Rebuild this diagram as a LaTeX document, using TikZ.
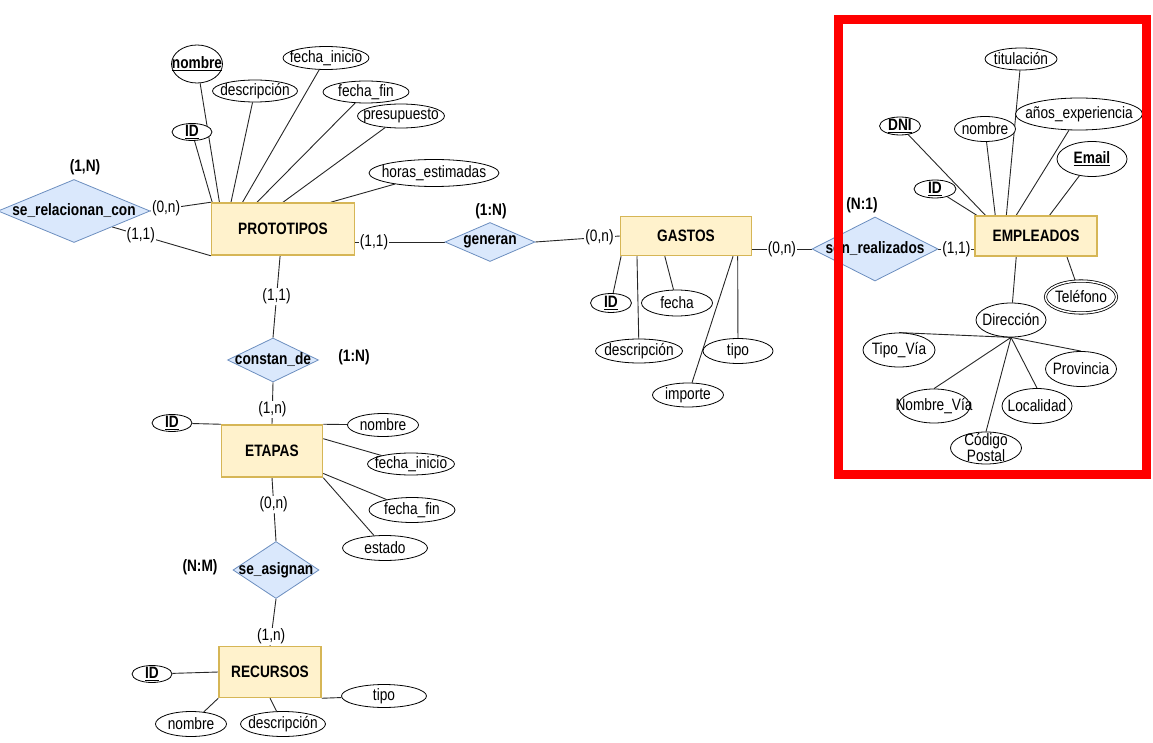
\documentclass[tikz,border=0pt]{standalone}
\usepackage{fontspec}
\setmainfont{Liberation Sans}[FakeStretch=0.83]
\usepackage{xcolor}
\definecolor{entfill}{HTML}{FFF2CC}
\definecolor{entdraw}{HTML}{D6B656}
\definecolor{relfill}{HTML}{DAE8FC}
\definecolor{reldraw}{HTML}{6C8EBF}
\usetikzlibrary{shapes.geometric,calc,backgrounds}
\newcommand{\keyattr}[1]{\textbf{\underline{#1}}}

\begin{document}
\begin{tikzpicture}[
  x=1pt,y=-1pt,
  font=\fontsize{16.5}{17}\selectfont,
  ent/.style={rectangle,draw=entdraw,fill=entfill,line width=1.5pt,font=\fontsize{16.5}{17}\selectfont\bfseries},
  rel/.style 2 args={diamond,draw=reldraw,fill=relfill,line width=0.8pt,inner sep=0pt,minimum width=#1pt,minimum height=#2pt},
  attr/.style 2 args={ellipse,draw,fill=white,line width=0.8pt,inner sep=0pt,minimum width=#1pt,minimum height=#2pt},
  multi/.style={double,double distance=1.5pt},
  lnk/.style={draw=black!85,line width=0.9pt},
  card/.style={fill=white,inner sep=1pt},
  ratio/.style={font=\fontsize{16.5}{17}\selectfont\bfseries}
]
\useasboundingbox (0,0) rectangle (1153,743);

% entidades
\node[ent,minimum width=143pt,minimum height=52pt] (proto) at (283,229) {PROTOTIPOS};
\node[ent,minimum width=131pt,minimum height=39pt] (gastos) at (686,236) {GASTOS};
\node[ent,minimum width=122pt,minimum height=40pt] (emp) at (1036,236) {EMPLEADOS};
\node[ent,minimum width=101pt,minimum height=52pt] (etapas) at (272,451) {ETAPAS};
\node[ent,minimum width=102pt,minimum height=51pt] (recursos) at (270,672) {RECURSOS};

% relaciones
\node[rel={152}{63},label=center:\bfseries se\_relacionan\_con] (serel) at (74,211) {};
\node[rel={90}{39},label=center:\bfseries generan] (generan) at (490,242) {};
\node[rel={126}{64},label=center:\bfseries son\_realizados] (sonreal) at (875,249) {};
\node[rel={91}{44},label=center:\bfseries constan\_de] (constan) at (273,360) {};
\node[rel={86}{57},label=center:\bfseries se\_asignan] (asignan) at (276,570) {};

\node[ratio] (rserel) at (85,167) {(1,N)};
\node[ratio] (rgeneran) at (491,211) {(1:N)};
\node[ratio] (rsonreal) at (862,205) {(N:1)};
\node[ratio] (rconstan) at (354,357) {(1:N)};
\node[ratio] (rasignan) at (200,567) {(N:M)};

% atributos de PROTOTIPOS
\node[attr={51}{38},label=center:\keyattr{nombre}] (pnombre) at (197,64) {};
\node[attr={40}{17},label=center:\keyattr{ID}] (pid) at (192,132) {};
\node[attr={85}{22},label=center:descripción] (pdesc) at (255,91) {};
\node[attr={86}{23},label=center:fecha\_inicio] (pfini) at (326,58) {};
\node[attr={86}{22},label=center:fecha\_fin] (pffin) at (366,92) {};
\node[attr={87}{24},label=center:presupuesto] (ppres) at (401,116) {};
\node[attr={130}{27},label=center:horas\_estimadas] (phoras) at (434,173) {};

% atributos de GASTOS
\node[attr={41}{19},label=center:\keyattr{ID}] (gid) at (611,303) {};
\node[attr={71}{26},label=center:fecha] (gfecha) at (677,303) {};
\node[attr={87}{24},label=center:descripción] (gdesc) at (639,351) {};
\node[attr={70}{25},label=center:tipo] (gtipo) at (738,351) {};
\node[attr={71}{24},label=center:importe] (gimporte) at (688,395) {};

% atributos de EMPLEADOS
\node[attr={72}{22},label=center:titulación] (etit) at (1021,59) {};
\node[attr={127}{32},label=center:años\_experiencia] (eanos) at (1079,114) {};
\node[attr={61}{25},label=center:nombre] (enombre) at (985,129) {};
\node[attr={41}{18},label=center:\keyattr{DNI}] (edni) at (900,126) {};
\node[attr={70}{35},label=center:\keyattr{Email}] (email) at (1092,159) {};
\node[attr={42}{18},label=center:\keyattr{ID}] (eid) at (935,189) {};
\node[attr={71}{32},multi,label=center:Teléfono] (etel) at (1081,297) {};
\node[attr={70}{34},label=center:Dirección] (edir) at (1011,320) {};
\node[attr={72}{34},label=center:Tipo\_Vía] (tipovia) at (899,350) {};
\node[attr={71}{35},label=center:Provincia] (provincia) at (1081,369) {};
\node[attr={72}{34},label=center:Nombre\_Vía] (nombrevia) at (934,406) {};
\node[attr={70}{35},label=center:Localidad] (localidad) at (1037,406) {};
\node[attr={71}{32},label={[align=center,inner sep=0pt,font=\fontsize{16.5}{16}\selectfont]center:Código\\Postal}] (codpostal) at (986,448) {};

% atributos de ETAPAS
\node[attr={40}{17},label=center:\keyattr{ID}] (tid) at (172,423) {};
\node[attr={71}{23},label=center:nombre] (tnombre) at (383,425) {};
\node[attr={87}{22},label=center:fecha\_inicio] (tfini) at (411,464) {};
\node[attr={86}{25},label=center:fecha\_fin] (tffin) at (412,510) {};
\node[attr={85}{25},label=center:estado] (testado) at (385,548) {};

% atributos de RECURSOS
\node[attr={40}{17},label=center:\keyattr{ID}] (rid) at (152,674) {};
\node[attr={85}{23},label=center:tipo] (rtipo) at (384,696) {};
\node[attr={71}{25},label=center:nombre] (rnombre) at (191,724) {};
\node[attr={85}{25},label=center:descripción] (rdesc) at (283,724) {};

\begin{scope}[on background layer]
% relaciones
\draw[lnk] (serel.east) -- node[card,pos=0.26] {(0,n)} (proto.north west);
\draw[lnk] (serel.south east) -- node[card,pos=0.29] {(1,1)} (proto.south west);
\draw[lnk] (proto.east |- generan.west) -- node[card,pos=0.21] {(1,1)} (generan.west);
\draw[lnk] (generan.east) -- node[card,pos=0.76] {(0,n)} (gastos.west);
\draw[lnk] (gastos.east |- sonreal.west) -- node[card,pos=0.5] {(0,n)} (sonreal.west);
\draw[lnk] (sonreal.east) -- node[card,pos=0.5] {(1,1)} (emp.west |- sonreal.east);
\draw[lnk] ($(proto.south west)!.48!(proto.south east)$) -- node[card] {(1,1)} (constan.north);
\draw[lnk] (constan.south) -- node[card,pos=0.65] {(1,n)} (etapas.north);
\draw[lnk] (etapas.south) -- node[card,pos=0.42] {(0,n)} (asignan.north);
\draw[lnk] (asignan.south) -- node[card,pos=0.8] {(1,n)} (recursos.north);

% atributos
\draw[lnk] (pid) -- ($(proto.north west)!.01!(proto.north east)$);
\draw[lnk] (pnombre) -- ($(proto.north west)!.06!(proto.north east)$);
\draw[lnk] (pdesc) -- ($(proto.north west)!.14!(proto.north east)$);
\draw[lnk] (pfini) -- ($(proto.north west)!.22!(proto.north east)$);
\draw[lnk] (pffin) -- ($(proto.north west)!.32!(proto.north east)$);
\draw[lnk] (ppres) -- ($(proto.north west)!.5!(proto.north east)$);
\draw[lnk] (phoras) -- ($(proto.north west)!.83!(proto.north east)$);

\draw[lnk] (gid) -- ($(gastos.south west)!.01!(gastos.south east)$);
\draw[lnk] (gdesc) -- ($(gastos.south west)!.13!(gastos.south east)$);
\draw[lnk] (gfecha) -- ($(gastos.south west)!.34!(gastos.south east)$);
\draw[lnk] (gimporte) -- ($(gastos.south west)!.855!(gastos.south east)$);
\draw[lnk] (gtipo) -- ($(gastos.south west)!.89!(gastos.south east)$);

\draw[lnk] (eid) -- ($(emp.north west)!.02!(emp.north east)$);
\draw[lnk] (edni) -- ($(emp.north west)!.09!(emp.north east)$);
\draw[lnk] (enombre) -- ($(emp.north west)!.17!(emp.north east)$);
\draw[lnk] (etit) -- ($(emp.north west)!.26!(emp.north east)$);
\draw[lnk] (eanos) -- ($(emp.north west)!.34!(emp.north east)$);
\draw[lnk] (email) -- ($(emp.north west)!.61!(emp.north east)$);
\draw[lnk] (edir) -- ($(emp.south west)!.34!(emp.south east)$);
\draw[lnk] (etel) -- ($(emp.south west)!.75!(emp.south east)$);
\draw[lnk] (edir.south) -- (tipovia.north);
\draw[lnk] (edir.south) -- (provincia.north);
\draw[lnk] (edir.south) -- (nombrevia.north);
\draw[lnk] (edir.south) -- (localidad.north);
\draw[lnk] (edir.south) -- (codpostal.north);

\draw[lnk] (tid) -- (etapas.north west);
\draw[lnk] (tnombre) -- (etapas.north east);
\draw[lnk] (tfini) -- ($(etapas.north east)!.27!(etapas.south east)$);
\draw[lnk] (tffin) -- ($(etapas.north east)!.92!(etapas.south east)$);
\draw[lnk] (testado) -- (etapas.south east);

\draw[lnk] (rid) -- (recursos.west);
\draw[lnk] (rtipo) -- (recursos.south east);
\draw[lnk] (rnombre) -- (recursos.south west);
\draw[lnk] (rdesc) -- ($(recursos.south west)!.5!(recursos.south east)$);
\end{scope}

% marco
\draw[draw=red,line width=9pt] (838,20) rectangle (1146,474);
\end{tikzpicture}
\end{document}
